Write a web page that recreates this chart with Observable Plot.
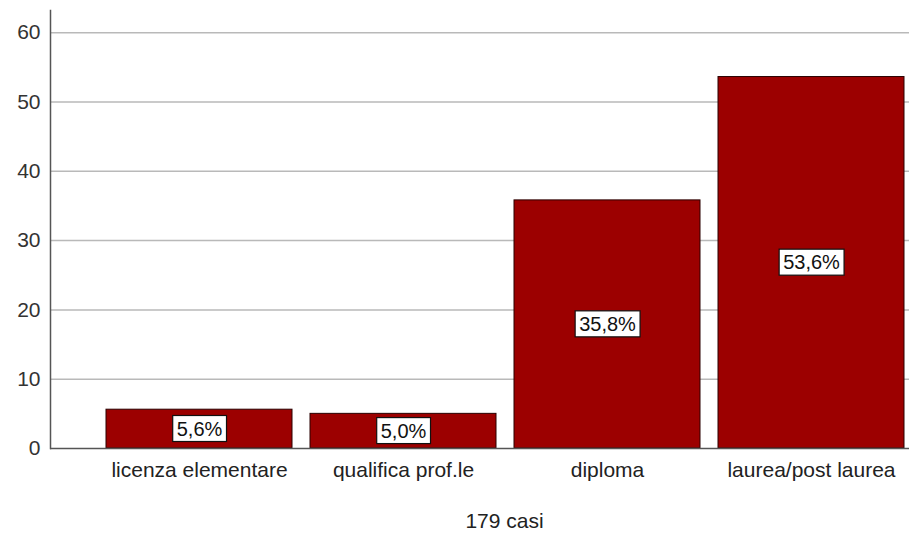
<!DOCTYPE html>
<html>
<head>
<meta charset="utf-8">
<script src="https://cdn.jsdelivr.net/npm/d3@7"></script>
<script src="https://cdn.jsdelivr.net/npm/@observablehq/plot@0.6"></script>
<style>
  body { margin: 0; background: #fff; font-family: "Liberation Sans", Arial, sans-serif; }
  #cap { width: 909px; box-sizing: border-box; padding-left: 100px; text-align: center; font-size: 21px; line-height: 24px; color: #222; margin-top: 9px; }
</style>
</head>
<body>
<div id="chart"></div>
<div id="cap"></div>
<script>
const categories = ["licenza elementare", "qualifica prof.le", "diploma", "laurea/post laurea"];
const values = [5.6, 5.0, 35.8, 53.6];
const labels = ["5,6%", "5,0%", "35,8%", "53,6%"];
const yTicks = [0, 10, 20, 30, 40, 50, 60];
const caption = "179 casi";

const data = categories.map((c, i) => ({cat: c, v: values[i], lab: labels[i]}));

const plot = Plot.plot({
  width: 909,
  height: 500,
  marginLeft: 50,
  marginRight: 0,
  marginTop: 10,
  marginBottom: 52,
  style: {fontFamily: "'Liberation Sans', Arial, sans-serif", fontSize: "21px", color: "#222", background: "#fff"},
  x: {domain: categories, range: [105, 904], paddingInner: 0.09, paddingOuter: 0, label: null},
  y: {domain: [0, 63.2], ticks: yTicks, label: null},
  marks: [
    Plot.ruleY(yTicks.filter(t => t > 0), {stroke: "#b9b9b9", strokeWidth: 1.5}),
    Plot.barY(data, {x: "cat", y: "v", fill: "#9c0000", stroke: "#2a0000", strokeWidth: 1}),
    Plot.text(data, {x: "cat", y: d => d.v / 2, text: "lab", fontSize: 20, fill: "#111", className: "vlab"}),
    Plot.axisY({ticks: yTicks, tickSize: 0, tickPadding: 10, fontSize: 21, fill: "#333", label: null}),
    Plot.axisX({tickSize: 0, tickPadding: 14, fontSize: 21, fill: "#222", label: null}),
    Plot.frame({anchor: "left", stroke: "#555", strokeWidth: 1.5}),
    Plot.ruleY([0], {stroke: "#555", strokeWidth: 1.5})
  ]
});
document.getElementById("chart").appendChild(plot);
document.getElementById("cap").textContent = caption;

// white boxes behind the value labels
const g = plot.querySelector("g.vlab") || plot.querySelector(".vlab");
if (g) {
  const texts = g.querySelectorAll("text");
  texts.forEach(t => {
    const b = t.getBBox();
    const r = document.createElementNS("http://www.w3.org/2000/svg", "rect");
    const tr = t.getAttribute("transform");
    if (tr) r.setAttribute("transform", tr);
    r.setAttribute("x", b.x - 4);
    r.setAttribute("y", b.y - 2);
    r.setAttribute("width", b.width + 8);
    r.setAttribute("height", b.height + 4);
    r.setAttribute("fill", "#fff");
    r.setAttribute("stroke", "#111");
    r.setAttribute("stroke-width", 1.2);
    g.insertBefore(r, t);
  });
}
</script>
</body>
</html>
